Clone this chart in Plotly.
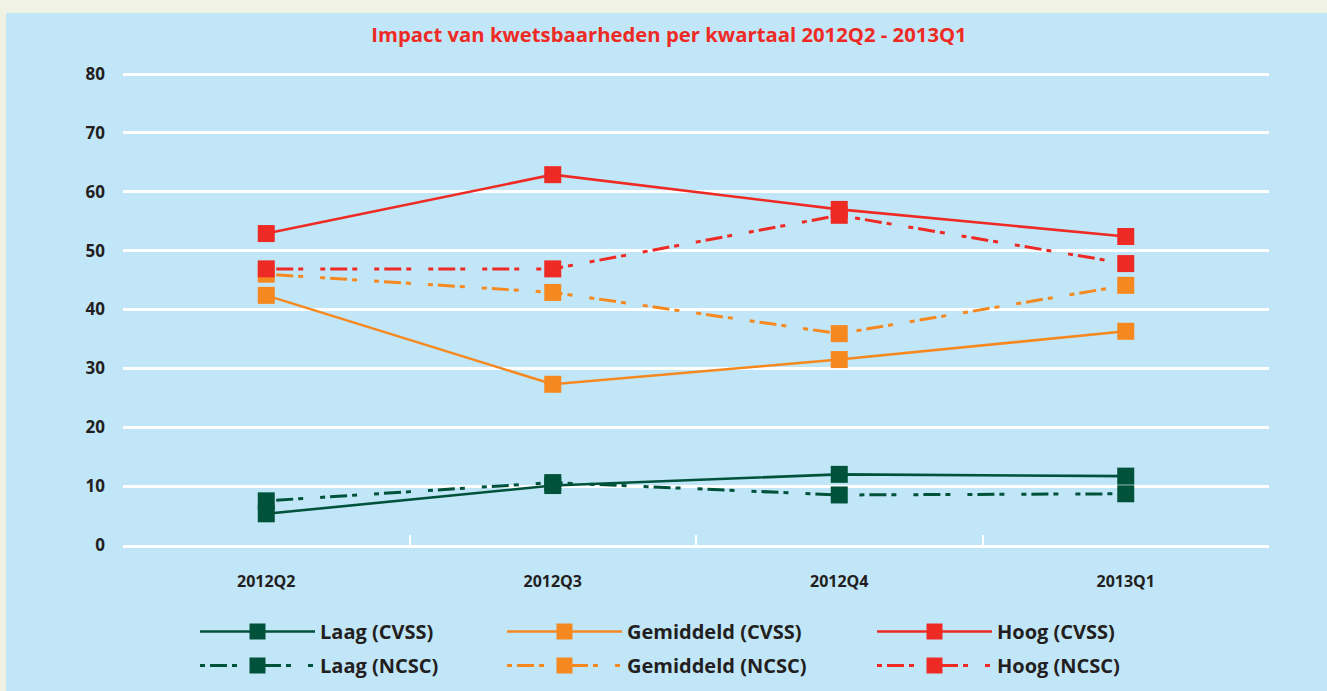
import plotly.graph_objects as go

quarters = ["2012Q2", "2012Q3", "2012Q4", "2013Q1"]
laag_cvss = [5.3, 10.1, 12.0, 11.7]
laag_ncsc = [7.5, 10.6, 8.5, 8.7]
gem_cvss = [42.4, 27.3, 31.5, 36.3]
gem_ncsc = [46.0, 42.9, 35.9, 44.1]
hoog_cvss = [52.9, 62.9, 57.0, 52.4]
hoog_ncsc = [46.9, 46.9, 56.0, 47.8]

GREEN = "#00523a"
ORANGE = "#f58920"
RED = "#ee2a24"
TEXT = "#231f20"
PANEL = "#c1e6f8"
BEIGE = "#f0f2e3"
DASH = "5px,5px,17px,5px,5px,17px"
FONT = "Open Sans"

series = [
    ("Laag (CVSS)", laag_cvss, GREEN, "solid", "legend"),
    ("Laag (NCSC)", laag_ncsc, GREEN, DASH, "legend"),
    ("Gemiddeld (CVSS)", gem_cvss, ORANGE, "solid", "legend2"),
    ("Gemiddeld (NCSC)", gem_ncsc, ORANGE, DASH, "legend2"),
    ("Hoog (CVSS)", hoog_cvss, RED, "solid", "legend3"),
    ("Hoog (NCSC)", hoog_ncsc, RED, DASH, "legend3"),
]

fig = go.Figure()
for name, vals, color, dash, leg in series:
    fig.add_trace(go.Scatter(
        x=quarters, y=vals, name=name, mode="lines+markers",
        line=dict(color=color, width=2.6 if dash == "solid" else 3, dash=dash),
        marker=dict(symbol="square", size=17, color=color),
        legend=leg, legendgroup=name,
    ))

L, R, T, B = 123, 58, 71, 146
W, H = 1327, 691
pw, ph = W - L - R, H - T - B
YTOP = 80 * ph / 471.0

def px_x(p):
    return (p - L) / pw

def px_y(p):
    return (H - B - p) / ph

legfont = dict(family=FONT, size=20, color=TEXT, weight="bold")
common = dict(orientation="v", xanchor="left", yanchor="top", bgcolor="rgba(0,0,0,0)",
              font=legfont, itemwidth=115, tracegroupgap=5, y=px_y(612))

fig.update_layout(
    width=W, height=H,
    margin=dict(l=L, r=R, t=T, b=B, autoexpand=False),
    paper_bgcolor=BEIGE,
    plot_bgcolor="rgba(0,0,0,0)",
    title=dict(text="Impact van kwetsbaarheden per kwartaal 2012Q2 - 2013Q1",
               font=dict(family=FONT, size=20.3, color=RED, weight="bold"),
               x=669 / W, xanchor="center", y=1 - 35 / H, yanchor="middle"),
    shapes=[dict(type="rect", xref="paper", yref="paper", layer="below",
                 x0=px_x(6), x1=px_x(W + 5), y0=px_y(H + 5), y1=px_y(13),
                 fillcolor=PANEL, line=dict(width=0))],
    xaxis=dict(type="category", range=[-0.5, 3.5], showgrid=False,
               showline=True, linecolor="white", linewidth=2.5,
               ticks="inside", tickson="boundaries", ticklen=10, tickwidth=2, tickcolor="white",
               tickfont=dict(family=FONT, size=16, color=TEXT, weight="bold"),
               ticklabelstandoff=20),
    yaxis=dict(range=[0, YTOP], tickvals=[0, 10, 20, 30, 40, 50, 60, 70, 80],
               showgrid=True, gridcolor="white", gridwidth=2.5,
               zeroline=False, showline=False, ticks="",
               tickfont=dict(family=FONT, size=17, color=TEXT, weight="bold"),
               ticklabelstandoff=17),
    legend=dict(x=px_x(195), **common),
    legend2=dict(x=px_x(502), **common),
    legend3=dict(x=px_x(872), **common),
)

fig.write_html("out.html", config={"displayModeBar": False},
               post_script="document.body.style.margin='0';document.body.style.overflow='hidden';")
